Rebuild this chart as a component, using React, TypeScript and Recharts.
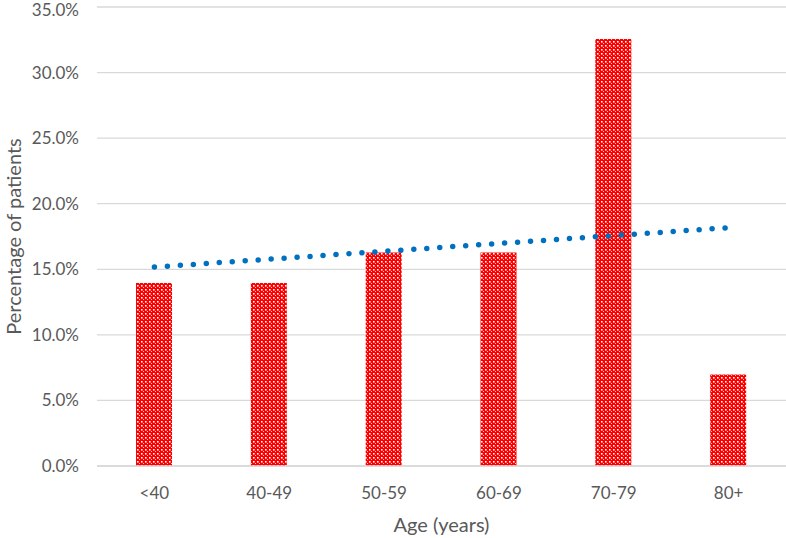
import React from 'react';
import { ComposedChart, Bar, Line, XAxis, YAxis, CartesianGrid, Label } from 'recharts';

const ageGroups = ['<40', '40-49', '50-59', '60-69', '70-79', '80+'];
const patientShare = [13.95, 13.95, 16.28, 16.28, 32.56, 6.98];
const trendShare = [15.17, 15.77, 16.37, 16.97, 17.57, 18.17];
const yTicks = [0, 5, 10, 15, 20, 25, 30, 35];

const data = ageGroups.map((age, i) => ({ age, share: patientShare[i], trend: trendShare[i] }));

const textColor = '#595959';
const gridColor = '#d9d9d9';
const font = 'Lato, "Noto Sans", sans-serif';

const YTitle = (props: any) => {
  const vb = props.viewBox || {};
  const cx = 13;
  const cy = vb.y + vb.height / 2;
  return (
    <text x={cx} y={cy} transform={`rotate(-90, ${cx}, ${cy})`} textAnchor="middle" dominantBaseline="central"
      fill={textColor} fontSize={20} fontFamily={font}>
      Percentage of patients
    </text>
  );
};

export default function App() {
  return (
    <div style={{ position: 'absolute', left: 0, top: 0, width: 786, height: 538, background: '#fff' }}>
      <svg width={0} height={0} style={{ position: 'absolute' }}>
        <defs>
          {/* red fill with white dot grid, like the Excel pattern fill */}
          <pattern id="redDots" width={4} height={4} patternUnits="userSpaceOnUse">
            <rect width={4} height={4} fill="#ff0000" />
            <rect x={1} y={1} width={1.6} height={1.6} fill="#ffffff" />
            <rect x={3} y={3} width={1} height={1} fill="#ffffff" opacity={0.75} />
          </pattern>
        </defs>
      </svg>
      <ComposedChart width={786} height={538} data={data} margin={{ top: 7, right: 0, bottom: 0, left: 0 }}>
        <CartesianGrid vertical={false} stroke={gridColor} strokeWidth={1.3} />
        <XAxis dataKey="age" height={72} axisLine={{ stroke: gridColor, strokeWidth: 1.3 }} tickLine={false}
          tickMargin={15} tick={{ fill: textColor, fontSize: 17, fontFamily: font }}>
          <Label value="Age (years)" position="insideBottom" offset={6} fill={textColor} fontSize={20} fontFamily={font} />
        </XAxis>
        <YAxis width={97} domain={[0, 35]} ticks={yTicks} axisLine={false} tickLine={false} tickMargin={12}
          tickFormatter={(v: number) => `${v.toFixed(1)}%`} tick={{ fill: textColor, fontSize: 17, fontFamily: font }}>
          <Label content={<YTitle />} />
        </YAxis>
        <Bar dataKey="share" barSize={36} fill="url(#redDots)" isAnimationActive={false} />
        <Line dataKey="trend" type="linear" stroke="#0070c0" strokeWidth={5.5} strokeDasharray="0 13"
          strokeLinecap="round" dot={false} activeDot={false} isAnimationActive={false} />
      </ComposedChart>
    </div>
  );
}
